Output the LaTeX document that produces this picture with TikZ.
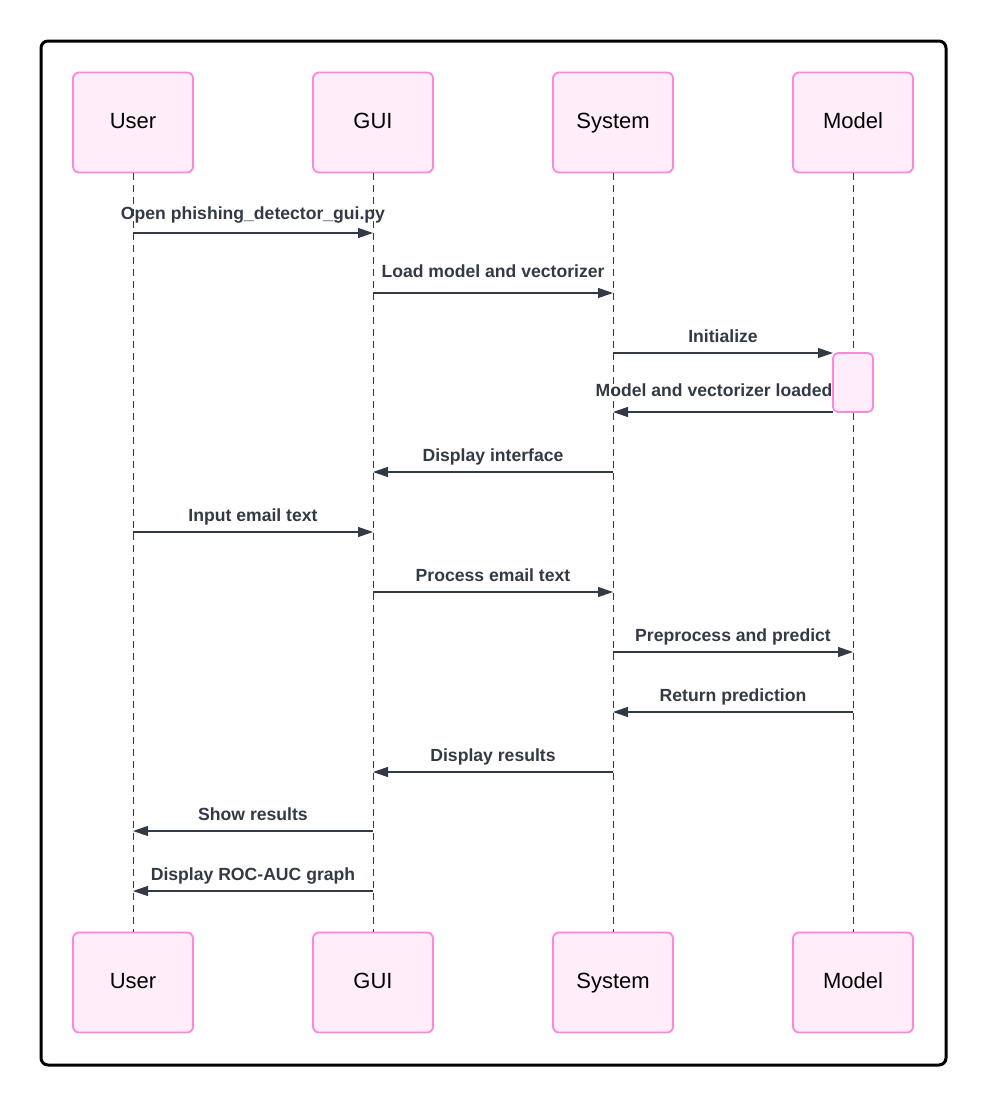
\documentclass[tikz,border=0pt]{standalone}
\usepackage{fontspec}
\setmainfont{Liberation Sans}
\usetikzlibrary{arrows.meta}
\definecolor{pinkfill}{HTML}{FFEEF9}
\definecolor{pinkline}{HTML}{FF85DD}
\definecolor{msgc}{HTML}{333A45}
\tikzset{
  actor/.style={draw=pinkline, fill=pinkfill, line width=1.8pt, rounded corners=6pt,
    minimum width=120pt, minimum height=100pt, inner sep=0pt,
    text height=16pt, text depth=5pt,
    font=\fontsize{22}{26}\selectfont, text=black},
  actbox/.style={draw=pinkline, fill=pinkfill, line width=1.8pt, rounded corners=5pt,
    minimum width=40pt, minimum height=59pt, inner sep=0pt},
  lifeline/.style={draw=msgc, line width=0.9pt, dash pattern=on 7pt off 5pt},
  msg/.style={draw=msgc, line width=1.1pt, -{Triangle[length=15pt,width=10pt]}},
  lbl/.style={font=\bfseries\fontsize{17.6}{20}\selectfont, text=msgc, anchor=base, inner sep=0pt},
}
\begin{document}
\begin{tikzpicture}[x=1pt,y=-1pt]
\useasboundingbox (0,0) rectangle (986,1106);
\draw[line width=3pt, rounded corners=7pt] (41,41) rectangle (946,1065);
% actors
\foreach \n/\t/\x in {u/User/133, g/GUI/373, s/System/613, m/Model/853}{
  \node[actor] (\n top) at (\x,122.5) {\t};
  \node[actor] (\n bot) at (\x,982.5) {\t};
  \draw[lifeline] (\n top.south) -- (\n bot.north);
}
% activation box
\node[actbox] (act) at (853,382.5) {};
% coordinates on lifelines
\foreach \n/\x in {u/133, g/373, s/613, m/853}{
  \foreach \i/\y in {1/233, 2/293, 3/353, 4/412, 5/472, 6/532, 7/592, 8/652, 9/712, 10/772, 11/831, 12/891}{
    \coordinate (\n\i) at (\x,\y);
  }
}
\coordinate (a3) at (833,353);
\coordinate (a4) at (833,412);
% messages
\draw[msg] (u1) -- (g1) node[lbl, midway, yshift=14pt] {Open phishing\_detector\_gui.py};
\draw[msg] (g2) -- (s2) node[lbl, midway, yshift=16pt] {Load model and vectorizer};
\draw[msg] (s3) -- (a3) node[lbl, midway, yshift=11pt] {Initialize};
\draw[msg] (a4) -- (s4) node[lbl, midway, yshift=15.5pt, xshift=-9pt] {Model and vectorizer loaded};
\draw[msg] (s5) -- (g5) node[lbl, midway, yshift=10.5pt] {Display interface};
\draw[msg] (u6) -- (g6) node[lbl, midway, yshift=10.5pt] {Input email text};
\draw[msg] (g7) -- (s7) node[lbl, midway, yshift=10.5pt] {Process email text};
\draw[msg] (s8) -- (m8) node[lbl, midway, yshift=10.5pt] {Preprocess and predict};
\draw[msg] (m9) -- (s9) node[lbl, midway, yshift=10.5pt] {Return prediction};
\draw[msg] (s10) -- (g10) node[lbl, midway, yshift=10.5pt] {Display results};
\draw[msg] (g11) -- (u11) node[lbl, midway, yshift=10.5pt] {Show results};
\draw[msg] (g12) -- (u12) node[lbl, midway, yshift=10.5pt] {Display ROC-AUC graph};
\end{tikzpicture}
\end{document}
